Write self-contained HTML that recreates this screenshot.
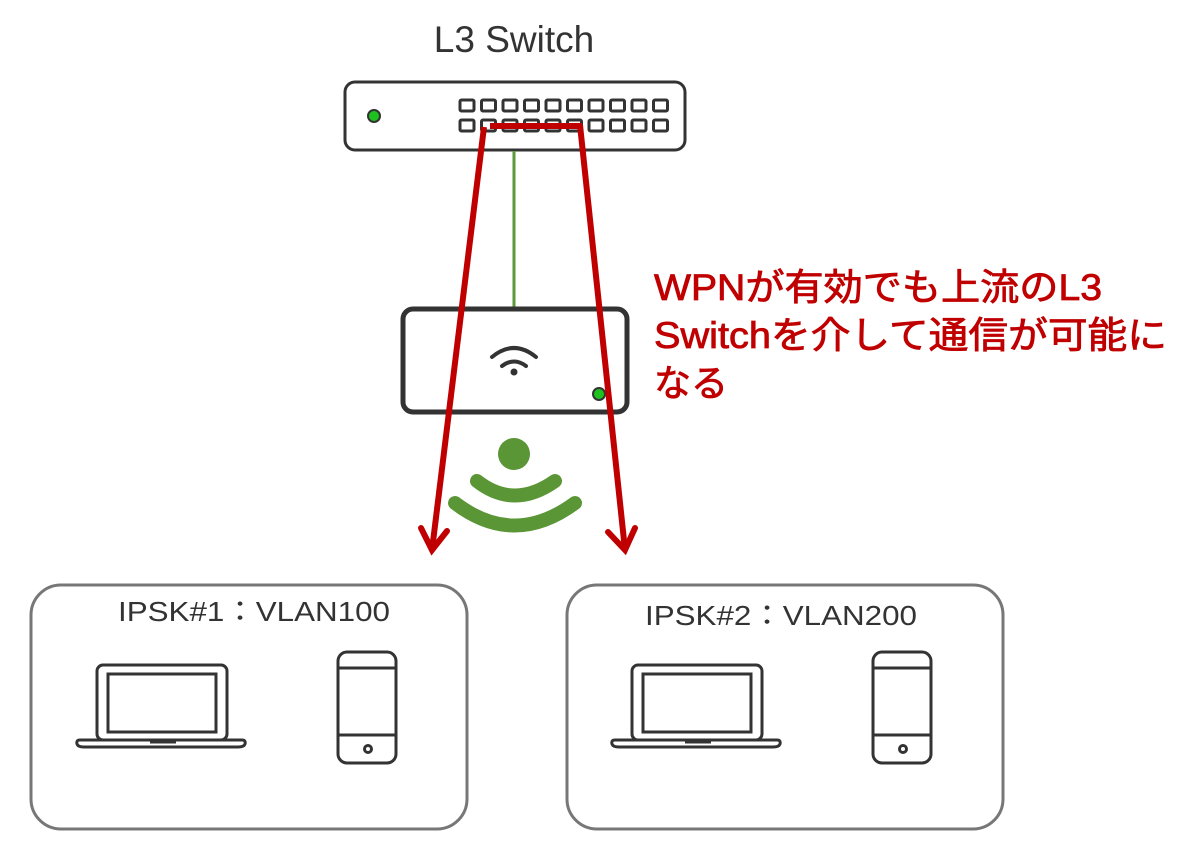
<!DOCTYPE html>
<html><head><meta charset="utf-8"><style>
html,body{margin:0;padding:0;background:#fff;width:1200px;height:851px;overflow:hidden}
svg{display:block}
</style></head><body>
<svg width="1200" height="851" viewBox="0 0 1200 851" xmlns="http://www.w3.org/2000/svg">
<text x="514" y="52" text-anchor="middle" font-family="Liberation Sans, sans-serif" font-size="37" fill="#333">L3 Switch</text>
<rect x="345" y="82" width="340" height="68" rx="10" fill="#fff" stroke="#333" stroke-width="3"/>
<circle cx="374" cy="116" r="6" fill="#1ec21e" stroke="#333" stroke-width="2"/>
<g fill="none" stroke="#333" stroke-width="3">
<rect x="460" y="100" width="14" height="11" rx="1.5"/><rect x="481.5" y="100" width="14" height="11" rx="1.5"/><rect x="503" y="100" width="14" height="11" rx="1.5"/><rect x="524.5" y="100" width="14" height="11" rx="1.5"/><rect x="546" y="100" width="14" height="11" rx="1.5"/><rect x="567.5" y="100" width="14" height="11" rx="1.5"/><rect x="589" y="100" width="14" height="11" rx="1.5"/><rect x="610.5" y="100" width="14" height="11" rx="1.5"/><rect x="632" y="100" width="14" height="11" rx="1.5"/><rect x="653.5" y="100" width="14" height="11" rx="1.5"/>
<rect x="460" y="120" width="14" height="11" rx="1.5"/><rect x="481.5" y="120" width="14" height="11" rx="1.5"/><rect x="503" y="120" width="14" height="11" rx="1.5"/><rect x="524.5" y="120" width="14" height="11" rx="1.5"/><rect x="546" y="120" width="14" height="11" rx="1.5"/><rect x="567.5" y="120" width="14" height="11" rx="1.5"/><rect x="589" y="120" width="14" height="11" rx="1.5"/><rect x="610.5" y="120" width="14" height="11" rx="1.5"/><rect x="632" y="120" width="14" height="11" rx="1.5"/><rect x="653.5" y="120" width="14" height="11" rx="1.5"/>
</g>
<line x1="514" y1="151" x2="514" y2="308" stroke="#5a9a3a" stroke-width="3"/>
<rect x="403" y="309" width="224" height="103" rx="10" fill="#fff" stroke="#333" stroke-width="5"/>
<g fill="none" stroke="#333" stroke-width="4" stroke-linecap="round">
<path d="M492 357 Q514 339 536 357"/><path d="M502 366 Q514 357 526 366"/>
</g>
<circle cx="514" cy="372" r="3.5" fill="#333"/>
<circle cx="599" cy="394" r="6" fill="#1ec21e" stroke="#333" stroke-width="2"/>
<circle cx="514" cy="454" r="16" fill="#5a9636"/>
<g fill="none" stroke="#5a9636" stroke-width="14" stroke-linecap="round">
<path d="M477 481 Q514 510 555 481"/><path d="M455 503 Q514 548 575 503"/>
</g>
<g fill="none" stroke="#c00000" stroke-width="6">
<path d="M490 126 L582 126"/>
<path d="M484 127 L432 550"/><path d="M580 125 L625 550"/>
</g>
<g fill="none" stroke="#c00000" stroke-width="6" stroke-linecap="round">
<path d="M421 528 L432 550 L447 531"/><path d="M608 532 L625 550 L635 528"/>
</g>
<g font-family="Liberation Sans, Noto Sans CJK JP, sans-serif" font-size="37" fill="#c00000" stroke="#c00000" stroke-width="0.8">
<text x="654" y="300" textLength="448" lengthAdjust="spacingAndGlyphs">WPNが有効でも上流のL3</text>
<text x="654" y="348" textLength="513" lengthAdjust="spacingAndGlyphs">Switchを介して通信が可能に</text>
<text x="654" y="396">なる</text>
</g>
<rect x="31" y="585" width="436" height="244" rx="30" fill="none" stroke="#777" stroke-width="3"/>
<rect x="567" y="585" width="436" height="244" rx="30" fill="none" stroke="#777" stroke-width="3"/>
<g font-family="Liberation Sans, Noto Sans CJK JP, sans-serif" font-size="28" fill="#333" text-anchor="middle">
<text x="254" y="621" textLength="272" lengthAdjust="spacingAndGlyphs">IPSK#1：VLAN100</text>
<text x="781" y="625" textLength="272" lengthAdjust="spacingAndGlyphs">IPSK#2：VLAN200</text>
</g>
<g id="dev" fill="none" stroke="#333" stroke-width="3">
<rect x="97" y="665" width="130" height="75" rx="6"/>
<rect x="108" y="674" width="108" height="58"/>
<path d="M80 740 H242 Q246 740 245 744 Q244 747 238 747 H84 Q78 747 77 744 Q76 740 80 740 Z"/>
<line x1="150" y1="742" x2="176" y2="742"/>
<rect x="338" y="652" width="58" height="111" rx="9"/>
<line x1="338" y1="668" x2="396" y2="668"/><line x1="338" y1="735" x2="396" y2="735"/>
<circle cx="368" cy="749" r="3.5"/>
</g>
<use href="#dev" x="535" y="0"/>
</svg>
</body></html>
